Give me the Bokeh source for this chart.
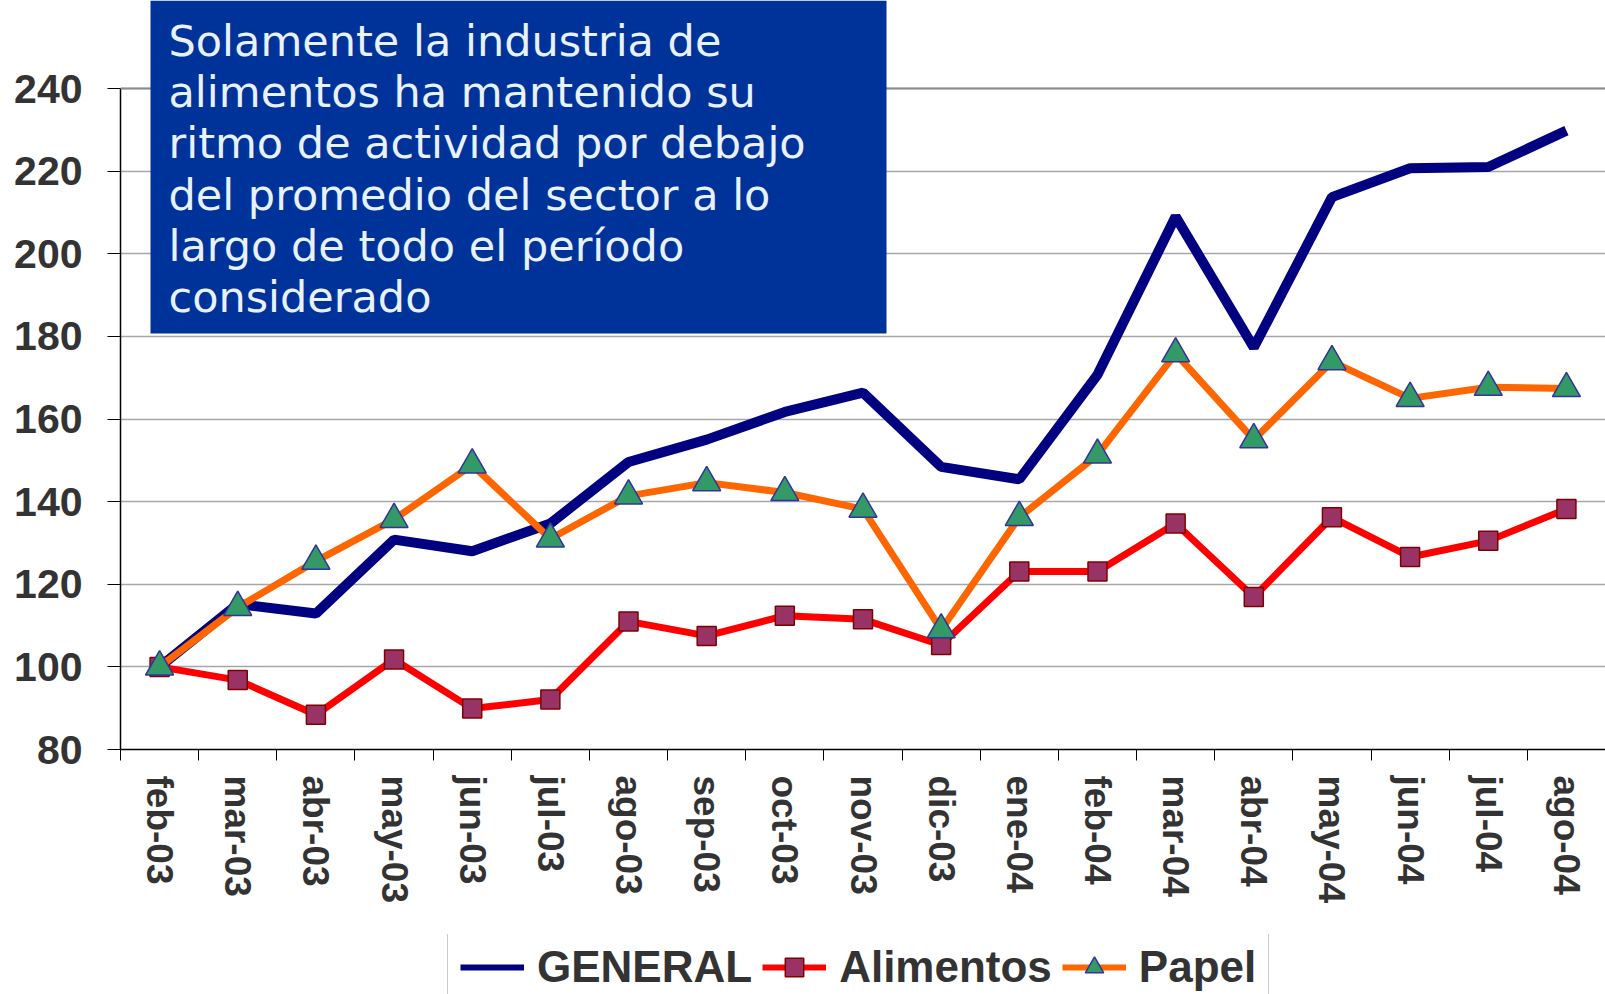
from bokeh.plotting import figure
from bokeh.layouts import column
from bokeh.models import (FixedTicker, BoxAnnotation, Label, Legend, LegendItem,
                          Span, Range1d, ColumnDataSource)
from bokeh.embed import file_html
from bokeh.resources import INLINE

# ---------------- data ----------------
months = ["feb-03", "mar-03", "abr-03", "may-03", "jun-03", "jul-03", "ago-03",
          "sep-03", "oct-03", "nov-03", "dic-03", "ene-04", "feb-04", "mar-04",
          "abr-04", "may-04", "jun-04", "jul-04", "ago-04"]
general = [100.0, 115.2, 112.9, 130.8, 128.0, 134.7, 149.6, 155.0, 161.7, 166.4,
           148.4, 145.4, 170.7, 209.0, 177.3, 213.7, 220.7, 221.0, 229.8]
alimentos = [100.0, 96.8, 88.4, 101.8, 89.9, 92.1, 111.0, 107.5, 112.4, 111.5,
             105.3, 123.1, 123.1, 134.7, 116.9, 136.2, 126.6, 130.5, 138.2]
papel = [100.0, 114.4, 125.6, 135.7, 148.9, 131.0, 141.4, 144.6, 142.2, 138.2,
         109.0, 136.2, 151.3, 175.8, 155.0, 173.9, 165.0, 167.7, 167.4]
y_ticks = [80, 100, 120, 140, 160, 180, 200, 220, 240]
series_names = ["GENERAL", "Alimentos", "Papel"]
box_lines = ["Solamente la industria de",
             "alimentos ha mantenido su",
             "ritmo de actividad por debajo",
             "del promedio del sector a lo",
             "largo de todo el período",
             "considerado"]

# ---------------- layout helpers (pixel geometry) ----------------
FIG_W = 1605
MAIN_H = 934
LEG_H = 994 - MAIN_H
FRAME_LEFT = 120
FRAME_W = FIG_W - FRAME_LEFT
FRAME_H = 749
Y_MIN, Y_AXIS_MAX = y_ticks[0], y_ticks[-1]
PX_PER_UNIT = 661 / (Y_AXIS_MAX - Y_MIN)
Y_TOP = Y_MIN + FRAME_H / PX_PER_UNIT
N = len(months)
PX_PER_CAT = FRAME_W / N


def dx(px):
    return (px - FRAME_LEFT) / PX_PER_CAT


def dy(py):
    return Y_MIN + (FRAME_H - py) / PX_PER_UNIT


xs = [i + 0.5 for i in range(N)]
src = ColumnDataSource(dict(x=xs, general=general, alimentos=alimentos, papel=papel))

p = figure(width=FIG_W, height=MAIN_H, output_backend="svg",
           toolbar_location=None, x_range=Range1d(0, N),
           y_range=Range1d(Y_MIN, Y_TOP),
           min_border_left=FRAME_LEFT, min_border_right=0, min_border_top=0,
           min_border_bottom=MAIN_H - FRAME_H)
p.outline_line_color = None
p.background_fill_color = "white"

# axes
xa = p.xaxis[0]
xa.ticker = FixedTicker(ticks=xs, minor_ticks=list(range(N + 1)))
xa.major_label_overrides = {x: m for x, m in zip(xs, months)}
xa.major_label_orientation = "vertical"
xa.major_tick_out = 0
xa.major_tick_in = 0
xa.minor_tick_out = 11
xa.minor_tick_in = 0
xa.minor_tick_line_color = "black"
xa.axis_line_color = "black"
xa.axis_line_width = 1.5
xa.major_label_text_font = "Liberation Sans"
xa.major_label_text_font_style = "bold"
xa.major_label_text_font_size = "37px"
xa.major_label_text_color = "#333333"
xa.major_label_standoff = 15

ya = p.yaxis[0]
ya.ticker = FixedTicker(ticks=y_ticks)
ya.bounds = (Y_MIN, Y_AXIS_MAX)
ya.major_tick_out = 13
ya.major_tick_in = 0
ya.minor_tick_line_color = None
ya.axis_line_color = "black"
ya.axis_line_width = 1.5
ya.major_label_text_font = "Liberation Sans"
ya.major_label_text_font_style = "bold"
ya.major_label_text_font_size = "41px"
ya.major_label_text_color = "#333333"
ya.major_label_standoff = 25

p.xgrid.visible = False
p.ygrid.ticker = FixedTicker(ticks=y_ticks)
p.ygrid.grid_line_color = "#a6a6a6"
p.ygrid.grid_line_width = 1.5
p.add_layout(Span(location=Y_AXIS_MAX, dimension="width", line_color="#8c8c8c",
                  line_width=2))


def draw_series(fig, gen_w, other_w):
    r1 = fig.line("x", "general", source=src, line_color="#000080", line_width=gen_w)
    r2 = fig.line("x", "alimentos", source=src, line_color="#FF0000", line_width=other_w)
    r3 = fig.scatter("x", "alimentos", source=src, marker="square", size=19,
                     fill_color="#993366", line_color="#800000", line_width=1.5)
    r4 = fig.line("x", "papel", source=src, line_color="#FF6600", line_width=other_w)
    r5 = fig.scatter("x", "papel", source=src, marker="triangle", size=28,
                     fill_color="#339966", line_color="#333399", line_width=1.5)
    return [[r1], [r2, r3], [r4, r5]]


draw_series(p, 10, 7)

# text box
p.add_layout(BoxAnnotation(left=dx(150), right=dx(886), top=Y_TOP, bottom=dy(333),
                           fill_color="#003399", fill_alpha=1.0, line_color=None,
                           level="overlay"))
for i, line in enumerate(box_lines):
    p.add_layout(Label(x=dx(168), y=dy(40.5 + 51.2 * i), text=line,
                       text_font="DejaVu Sans", text_font_size="43px",
                       text_color="#E8F2FF", text_baseline="alphabetic",
                       level="overlay"))

# legend strip (a second figure whose view shows no data, only the legend)
pl = figure(width=FIG_W, height=LEG_H, output_backend="svg", toolbar_location=None,
            x_range=Range1d(1000, 1001), y_range=Range1d(1000, 1001),
            x_axis_type=None, y_axis_type=None,
            min_border_left=0, min_border_right=0, min_border_top=0,
            min_border_bottom=0)
pl.outline_line_color = None
pl.xgrid.visible = False
pl.ygrid.visible = False
leg_renderers = draw_series(pl, 6, 6)

LEG_PAD, LEG_ROW = 12, 46
LEG_BOX_H = 2 * LEG_PAD + LEG_ROW
legend = Legend(items=[LegendItem(label=n, renderers=r)
                       for n, r in zip(series_names, leg_renderers)],
                orientation="horizontal", location=(327, LEG_H - 1 - LEG_BOX_H),
                glyph_width=64, glyph_height=LEG_ROW, label_height=LEG_ROW,
                label_standoff=13, spacing=10, padding=LEG_PAD, margin=0,
                label_text_font="Liberation Sans",
                label_text_font_style="bold", label_text_font_size="44px",
                label_text_color="#333333", border_line_color="#999999",
                border_line_width=1.5, background_fill_color="white",
                background_fill_alpha=1.0)
pl.add_layout(legend)

layout = column(p, pl, spacing=0)
open("out.html", "w").write(file_html(layout, INLINE))
